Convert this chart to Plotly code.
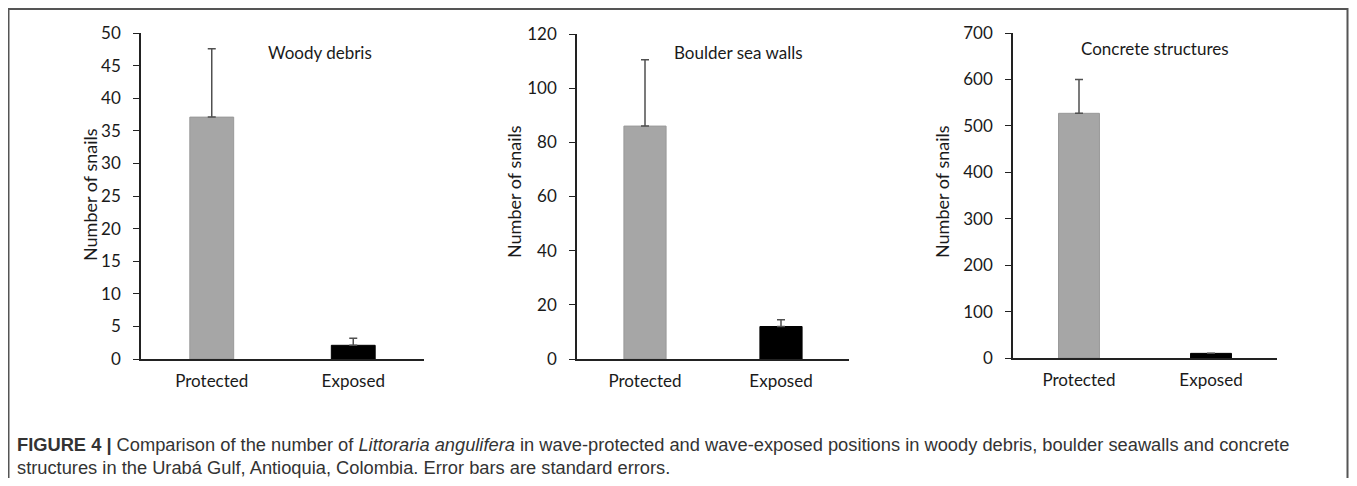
import plotly.graph_objects as go

# page offset from default body margin
OFF = 8
W, H = 1357 - 2 * OFF, 486 - 2 * OFF

categories = ["Protected", "Exposed"]
panel_titles = ["Woody debris", "Boulder sea walls", "Concrete structures"]
woody_means = [37.1, 2.1]
woody_se = [10.5, 1.1]
boulder_means = [86.0, 12.0]
boulder_se = [24.5, 2.5]
concrete_means = [527.0, 10.0]
concrete_se = [73.0, 0.0]
y_max = [50, 120, 700]
y_dtick = [5, 20, 100]
y_title = "Number of snails"
bar_colors = ["#a6a6a6", "#000000"]
caption_line1 = ("<b>FIGURE 4 |</b> Comparison of the number of <i>Littoraria angulifera</i> in "
                 "wave-protected and wave-exposed positions in woody debris, boulder seawalls and concrete")
caption_line2 = "structures in the Urabá Gulf, Antioquia, Colombia. Error bars are standard errors."

means = [woody_means, boulder_means, concrete_means]
ses = [woody_se, boulder_se, concrete_se]

# pixel layout of each panel on the page: (x_left, x_right, y_top, y_bottom)
panels_px = [(141, 424, 33, 359), (577, 849, 34, 359), (1013, 1277, 33, 358)]
title_px = [(320, 53), (738, 53), (1155, 49)]
ytitle_px = [(90, 195), (514, 192), (942, 192)]

def px_x(x):
    return (x - OFF) / W

def px_y(y):
    return 1 - (y - OFF) / H

fig = go.Figure()
chart_font = "Lato, Open Sans, sans-serif"

for i in range(3):
    xa = "x" if i == 0 else f"x{i+1}"
    ya = "y" if i == 0 else f"y{i+1}"
    fig.add_trace(go.Bar(
        x=categories, y=means[i], xaxis=xa, yaxis=ya,
        marker=dict(color=bar_colors, line=dict(color=["#999999", "#000000"], width=1)),
        width=0.31,
        error_y=dict(type="data", symmetric=False, array=ses[i], arrayminus=[0, 0],
                     color="#505050", thickness=1.5, width=4),
        showlegend=False, hoverinfo="skip",
    ))
    x0, x1, y0, y1 = panels_px[i]
    xkey = "xaxis" if i == 0 else f"xaxis{i+1}"
    ykey = "yaxis" if i == 0 else f"yaxis{i+1}"
    fig.layout[xkey] = dict(
        domain=[px_x(x0), px_x(x1)], anchor=ya, range=[-0.5, 1.5],
        showline=True, linecolor="#222222", linewidth=1.5, ticks="",
        showgrid=False, zeroline=False, automargin=False,
        tickfont=dict(family=chart_font, size=17, color="#1a1a1a"),
        ticklabelstandoff=6,
    )
    fig.layout[ykey] = dict(
        domain=[px_y(y1), px_y(y0)], anchor=xa, range=[0, y_max[i]],
        dtick=y_dtick[i], tick0=0, automargin=False,
        showline=True, linecolor="#222222", linewidth=1.5,
        ticks="outside", ticklen=6, tickcolor="#222222", tickwidth=1.2,
        showgrid=False, zeroline=False,
        tickfont=dict(family=chart_font, size=17, color="#1a1a1a"),
        ticklabelstandoff=9,
    )
    tx, ty = title_px[i]
    fig.add_annotation(x=px_x(tx), y=px_y(ty), xref="paper", yref="paper",
                       text=panel_titles[i], showarrow=False,
                       font=dict(family=chart_font, size=17, color="#1a1a1a"),
                       xanchor="center", yanchor="middle")
    ax_, ay_ = ytitle_px[i]
    fig.add_annotation(x=px_x(ax_), y=px_y(ay_), xref="paper", yref="paper",
                       text=y_title, showarrow=False, textangle=-90,
                       font=dict(family=chart_font, size=18, color="#1a1a1a"),
                       xanchor="center", yanchor="middle")

# caption
cap_font = dict(family="Liberation Sans, Arial, sans-serif", size=18.3, color="#333333")
fig.add_annotation(x=px_x(15), y=px_y(444), xref="paper", yref="paper",
                   text=caption_line1, showarrow=False, xanchor="left", yanchor="middle",
                   font=cap_font)
fig.add_annotation(x=px_x(15), y=px_y(467), xref="paper", yref="paper",
                   text=caption_line2, showarrow=False, xanchor="left", yanchor="middle",
                   font=cap_font)

# outer frame (right edge kept inside the drawable area)
fig.add_shape(type="rect", xref="paper", yref="paper",
              x0=px_x(8.5), x1=px_x(1347.5), y0=px_y(495), y1=px_y(9),
              line=dict(color="#555555", width=2), fillcolor="rgba(0,0,0,0)", layer="above")

fig.update_layout(
    width=W, height=H, margin=dict(l=0, r=0, t=0, b=0, autoexpand=False),
    paper_bgcolor="white", plot_bgcolor="white",
    bargap=0.4,
)

fig.write_html("out.html")
